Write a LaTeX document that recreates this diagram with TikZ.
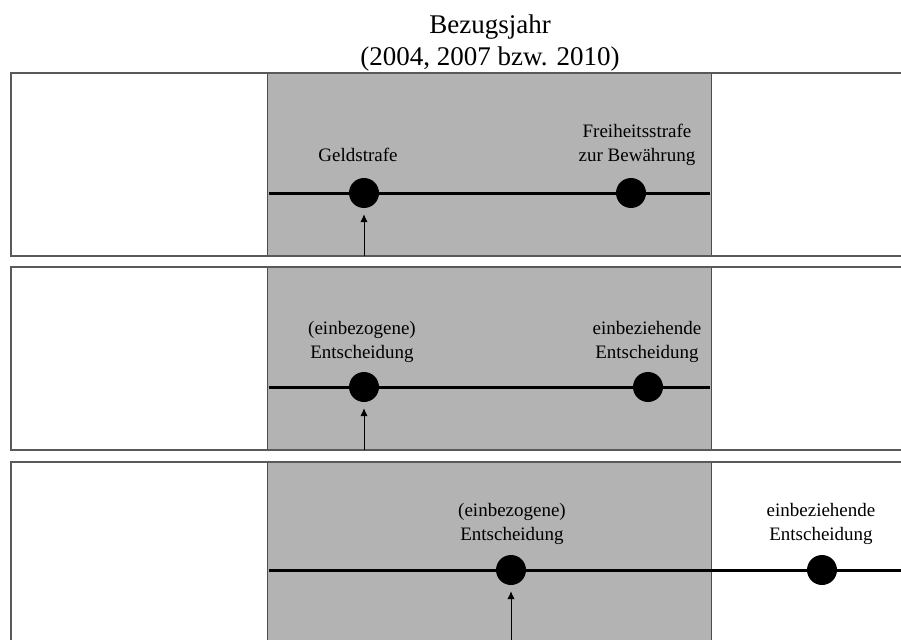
\documentclass[tikz,border=0pt]{standalone}
\usepackage{fontspec}
\setmainfont{Liberation Serif}
\usetikzlibrary{arrows.meta}
\definecolor{bandgray}{RGB}{179,179,179}
\begin{document}
\begin{tikzpicture}[x=1pt,y=-1pt,
  dot/.style={circle,fill=black,inner sep=0pt,minimum size=30pt},
  lbl/.style={align=center,anchor=base,font=\fontsize{19}{24}\selectfont,inner sep=0pt},
  timeline/.style={line width=3pt},
  ptr/.style={line width=1pt,-{Latex[length=8pt,width=7.5pt]},shorten >=6pt},
  frame/.style={line width=1.5pt,draw=black!65},
  bandedge/.style={line width=1pt,draw=black!70}]
\useasboundingbox (0,0) rectangle (901,639);
% title
\node[align=center,anchor=base,font=\fontsize{27}{32}\selectfont,inner sep=0pt] (title) at (490,66) {Bezugsjahr\\(2004, 2007 bzw. 2010)};
% ---------- panel 1 ----------
\fill[bandgray] (267,73) rectangle (711,256);
\draw[bandedge] (267,73) -- (267,256) (711,73) -- (711,256);
\draw[frame] (901,73) -- (11,73) -- (11,256) -- (901,256);
\coordinate (l1a) at (269,193);
\coordinate (l1b) at (710,193);
\coordinate (b1) at (364,256);
\draw[timeline] (l1a) -- (l1b);
\node[dot] (d1a) at (364,193) {};
\node[dot] (d1b) at (631,193) {};
\draw[ptr] (b1) -- (d1a);
\node[lbl] (t1a) at (358,161) {Geldstrafe};
\node[lbl] (t1b) at (637,161) {Freiheitsstrafe\\zur Bewährung};
% ---------- panel 2 ----------
\fill[bandgray] (267,267) rectangle (711,450);
\draw[bandedge] (267,267) -- (267,450) (711,267) -- (711,450);
\draw[frame] (901,267) -- (11,267) -- (11,450) -- (901,450);
\coordinate (l2a) at (269,387);
\coordinate (l2b) at (710,387);
\coordinate (b2) at (364,450);
\draw[timeline] (l2a) -- (l2b);
\node[dot] (d2a) at (364,387) {};
\node[dot] (d2b) at (648,387) {};
\draw[ptr] (b2) -- (d2a);
\node[lbl] (t2a) at (362,358) {(einbezogene)\\Entscheidung};
\node[lbl] (t2b) at (647,358) {einbeziehende\\Entscheidung};
% ---------- panel 3 ----------
\fill[bandgray] (267,462) rectangle (711,641);
\draw[bandedge] (267,462) -- (267,641) (711,462) -- (711,641);
\draw[frame] (901,462) -- (11,462) -- (11,641);
\coordinate (l3a) at (269,570);
\coordinate (l3b) at (901,570);
\coordinate (b3) at (511,641);
\draw[timeline] (l3a) -- (l3b);
\node[dot] (d3a) at (511,570) {};
\node[dot] (d3b) at (822,570) {};
\draw[ptr] (b3) -- (d3a);
\node[lbl] (t3a) at (512,540) {(einbezogene)\\Entscheidung};
\node[lbl] (t3b) at (821,540) {einbeziehende\\Entscheidung};
\end{tikzpicture}
\end{document}
